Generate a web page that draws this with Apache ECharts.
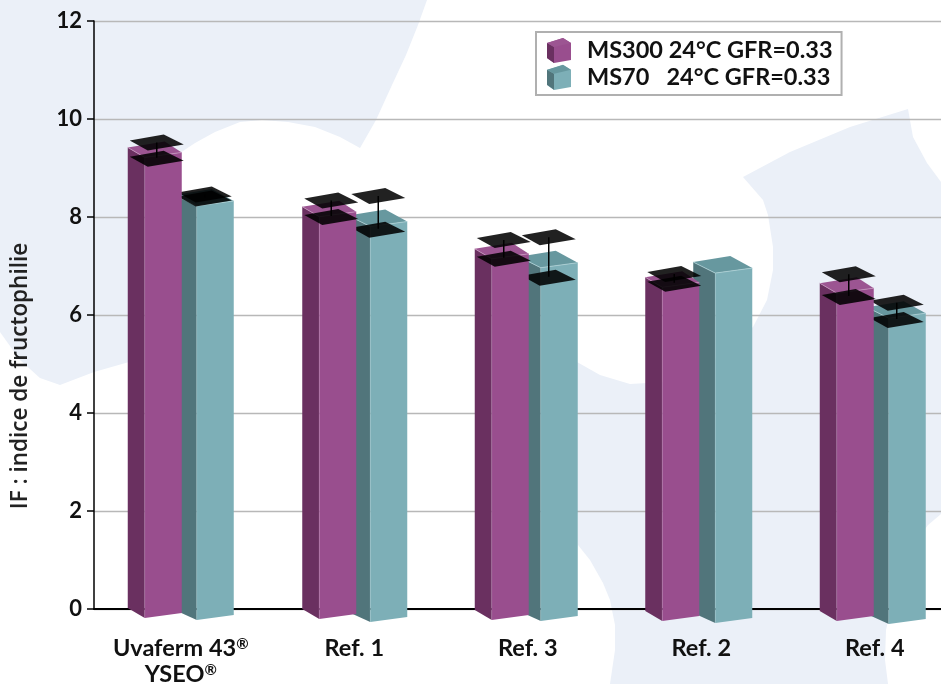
<!DOCTYPE html>
<html>
<head>
<meta charset="utf-8">
<style>
html, body { margin: 0; padding: 0; background: #fff; }
#main { width: 941px; height: 684px; overflow: hidden; }
</style>
<script src="https://cdn.jsdelivr.net/npm/echarts@6/dist/echarts.min.js"></script>
</head>
<body>
<div id="main"></div>
<script>
// data
var categories = ['Uvaferm 43®\nYSEO®', 'Ref. 1', 'Ref. 3', 'Ref. 2', 'Ref. 4'];
var yTicks = [0, 12, 2];
var ms300 = [9.42, 8.21, 7.35, 6.77, 6.65];
var ms300Low = [9.23, 8.04, 7.19, 6.68, 6.41];
var ms300High = [9.56, 8.38, 7.57, 6.88, 6.87];
var ms70 = [8.45, 8.03, 7.19, 7.08, 6.16];
var ms70Low = [8.42, 7.78, 6.80, null, 5.94];
var ms70High = [8.50, 8.47, 7.63, null, 6.29];
var nameMs300 = 'MS300 24°C GFR=0.33';
var nameMs70 = 'MS70   24°C GFR=0.33';

// pseudo 3D look of each bar
var purple = {
    front: '#994e8e', side: '#6a3060', top: '#9c5592', edge: '#c595bd',
    frontX: [-36, -35, -36, -39, -38], drop: [9, 10, 11, 12, 12],
    depth: 17, stem: 12, topDrop: 10
};
var teal = {
    front: '#7dafb7', side: '#51757b', top: '#67989f', edge: '#aed2d7',
    frontX: [16, 16, 13, 14, 14], drop: [11, 13, 12, 14, 15],
    depth: 22, stem: 8, topDrop: 11
};
var faceWidth = 37;

function poly(points, fill) {
    return { type: 'polygon', shape: { points: points }, style: { fill: fill } };
}

function plate(x, y) {
    return poly([[x - 27, y], [x + 7, y - 6], [x + 27, y + 4], [x - 9, y + 10]], 'rgba(0,0,0,0.87)');
}

function makeRender(look, low, high) {
    return function (params, api) {
        var i = params.dataIndex;
        var cx = api.coord([i, 0])[0];
        var y0 = api.coord([i, 0])[1];
        var y = api.coord([i, api.value(1)])[1];
        var f = cx + look.frontX[i];
        var l = f - look.depth;
        var r = f + faceWidth;
        var d = look.drop[i];
        var t = look.topDrop;
        var kids = [
            poly([[l, y], [f, y + t], [f, y0 + d], [l, y0 + d - 10]], look.side),
            poly([[f, y + t], [r, y + t - 5], [r, y0 + d - 5], [f, y0 + d]], look.front),
            poly([[l, y], [l + faceWidth, y - 6], [r, y + t - 5], [f, y + t]], look.top),
            { type: 'polyline', shape: { points: [[l, y], [f, y + t], [r, y + t - 5]] }, style: { stroke: look.edge, lineWidth: 0.8, fill: null } },
            { type: 'line', shape: { x1: f, y1: y + t, x2: f, y2: y0 + d }, style: { stroke: look.edge, lineWidth: 0.5, opacity: 0.6 } }
        ];
        if (low[i] != null) {
            var sx = f + look.stem;
            var yl = api.coord([i, low[i]])[1];
            var yh = api.coord([i, high[i]])[1];
            kids.push(plate(sx, yl));
            kids.push(plate(sx, yh));
            kids.push({ type: 'line', shape: { x1: sx, y1: yh + 2, x2: sx, y2: yl + 1 }, style: { stroke: '#000', lineWidth: 1.5 } });
        }
        return { type: 'group', children: kids };
    };
}

// pale blue shapes behind the chart
var bgLeft = [[0,0],[427,0],[418,25],[406,55],[392,85],[376,120],[360,148],[340,137],[315,127],[288,122],[262,120],[240,122],[215,132],[195,143],[180,153],[160,183],[146,205],[138,227],[131,265],[129,306],[129,362],[94,372],[60,385],[40,378],[20,360],[0,332]];
var bgRight = [[743,177],[790,152],[850,127],[908,109],[913,137],[927,163],[941,182],[941,514],[928,525],[910,550],[895,590],[886,630],[885,660],[888,684],[610,684],[615,650],[615,625],[610,600],[603,583],[590,560],[578,545],[577,362],[600,375],[630,384],[665,382],[696,371],[725,352],[753,327],[767,300],[773,270],[773,247],[768,215],[763,200]];

function cube(dy, look) {
    return [
        { type: 'polygon', z: 100, shape: { points: [[547,43+dy],[554,47+dy],[554,63+dy],[547,58+dy]] }, style: { fill: look.side } },
        { type: 'polygon', z: 100, shape: { points: [[547,43+dy],[563,38+dy],[571,43+dy],[554,47+dy]] }, style: { fill: look.top } }
    ];
}

var font = 'Lato';
var myChart = echarts.init(document.getElementById('main'));
var option = {
    animation: false,
    backgroundColor: '#fff',
    textStyle: { fontFamily: font },
    grid: { left: 94, top: 21, width: 867.5, height: 588, outerBoundsMode: 'none' },
    graphic: [
        { type: 'polygon', z: -10, shape: { points: bgLeft }, style: { fill: '#ebf0f8' } },
        { type: 'polygon', z: -10, shape: { points: bgRight }, style: { fill: '#ebf0f8' } }
    ].concat(cube(0, purple), cube(26.7, teal)),
    legend: {
        orient: 'vertical',
        left: 536,
        top: 32,
        padding: [6, 9, 5, 11],
        itemWidth: 24,
        itemHeight: 25,
        itemGap: 2,
        backgroundColor: '#fff',
        borderColor: '#b0b0b0',
        borderWidth: 2,
        borderRadius: 0,
        textStyle: { color: '#111', fontFamily: font, fontWeight: 700, fontSize: 23.5, padding: [0, 0, 0, 11] },
        data: [
            { name: nameMs300, icon: 'path://M0 5L16 0L24 5L24 22L7 25L0 20Z' },
            { name: nameMs70, icon: 'path://M0 5L16 0L24 5L24 22L7 25L0 20Z' }
        ]
    },
    xAxis: {
        type: 'category',
        data: categories,
        axisLine: { lineStyle: { color: '#000', width: 2 } },
        axisTick: { show: false },
        axisLabel: {
            color: '#111', fontFamily: font, fontWeight: 700, fontSize: 23.5, lineHeight: 26, margin: 26, interval: 0,
            formatter: function (v) {
                return v.split('\n').map(function (line) {
                    return line.split('®').map(function (s) { return s ? '{t|' + s + '}' : ''; }).join('{s|®}');
                }).join('\n');
            },
            rich: {
                t: { color: '#111', fontFamily: font, fontWeight: 700, fontSize: 23.5, lineHeight: 26 },
                s: { color: '#111', fontFamily: font, fontWeight: 700, fontSize: 15, lineHeight: 26, padding: [0, 0, 7, 0] }
            }
        }
    },
    yAxis: {
        type: 'value',
        min: yTicks[0],
        max: yTicks[1],
        interval: yTicks[2],
        name: 'IF : indice de fructophilie',
        nameLocation: 'middle',
        nameGap: 62,
        nameRotate: 90,
        nameTextStyle: { color: '#222', fontFamily: 'Open Sans', fontWeight: 600, fontSize: 22.5, padding: [0, 122, 0, 0] },
        axisLine: { show: true, lineStyle: { color: '#000', width: 1.5 } },
        axisTick: { show: true, length: 7, lineStyle: { color: '#000', width: 1.5 } },
        axisLabel: { color: '#111', fontFamily: font, fontWeight: 700, fontSize: 22, margin: 12 },
        splitLine: { lineStyle: { color: '#b8b8b8', width: 1.3 } }
    },
    series: [
        {
            name: nameMs70,
            type: 'custom',
            z: 3,
            itemStyle: { color: teal.front },
            renderItem: makeRender(teal, ms70Low, ms70High),
            encode: { x: 0, y: 1 },
            data: ms70.map(function (v, i) { return [i, v]; })
        },
        {
            name: nameMs300,
            type: 'custom',
            z: 4,
            itemStyle: { color: purple.front },
            renderItem: makeRender(purple, ms300Low, ms300High),
            encode: { x: 0, y: 1 },
            data: ms300.map(function (v, i) { return [i, v]; })
        }
    ]
};
myChart.setOption(option);
</script>
</body>
</html>
